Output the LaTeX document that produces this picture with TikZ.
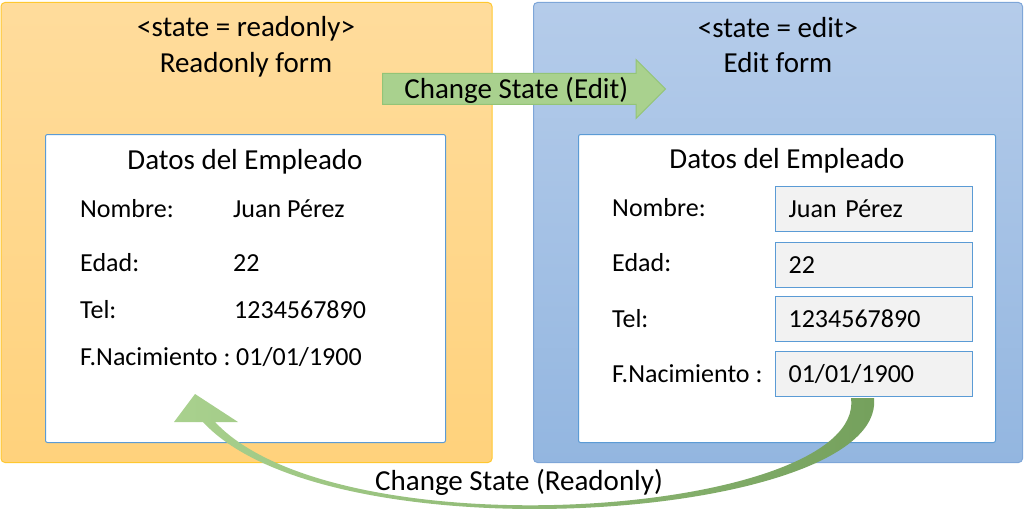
\documentclass[tikz,border=0pt]{standalone}
\usepackage{fontspec}
\setmainfont{Carlito}
\usetikzlibrary{shapes.arrows,positioning,calc}
\definecolor{roTop}{HTML}{FFDC9C}
\definecolor{roBot}{HTML}{FFD27C}
\definecolor{roEdge}{HTML}{FFC830}
\definecolor{edTop}{HTML}{B5CCEA}
\definecolor{edBot}{HTML}{93B6E0}
\definecolor{edEdge}{HTML}{7EA6D8}
\definecolor{frmEdge}{HTML}{5B9BD5}
\definecolor{fldFill}{HTML}{F2F2F2}
\definecolor{grnLight}{HTML}{A9D18E}
\definecolor{grnDark}{HTML}{74A05C}
\definecolor{grnEdge}{HTML}{93C477}
\newcommand{\titlefont}{\fontsize{29}{34}\selectfont}
\newcommand{\fieldfont}{\fontsize{26}{31}\selectfont}
\tikzset{
  panel/.style={anchor=north west, rounded corners=4pt, line width=1pt, inner sep=0},
  ropanel/.style={panel, draw=roEdge, top color=roTop, bottom color=roBot},
  edpanel/.style={panel, draw=edEdge, top color=edTop, bottom color=edBot},
  formbox/.style={anchor=north west, draw=frmEdge, fill=white, rounded corners=2pt, line width=1pt, inner sep=0},
  title/.style={font=\titlefont, inner sep=0, text height=18.6pt, text depth=0pt},
  lbl/.style={font=\fieldfont, anchor=west, inner sep=0, text height=16.6pt, text depth=0pt},
  fieldbox/.style={lbl, anchor=north west, draw=frmEdge, fill=fldFill, line width=1.2pt,
    minimum height=45pt, text width=171pt, inner xsep=13pt, align=left},
  editarrow/.style={single arrow, single arrow head extend=14pt, single arrow head indent=0pt,
    font=\titlefont, text height=18.6pt, text depth=0pt, inner ysep=5.7pt, inner xsep=0pt,
    minimum height=283pt, fill=grnLight, draw=grnEdge, line width=1pt, anchor=tail},
}

\begin{document}
\begin{tikzpicture}[x=1pt,y=-1pt]
 \useasboundingbox (0,0) rectangle (1024,516);
 % readonly state
 \node[ropanel, minimum width=491pt, minimum height=460pt] (ro) at (0.5,2) {};
 \node[title] (roState) at (246,27) {<state = readonly>};
 \node[title] (roName) at (246,63) {Readonly form};
 \node[formbox, minimum width=400pt, minimum height=308pt] (roForm) at (45,134) {};
 \node[title] (roHead) at (245,160) {Datos del Empleado};
 \node[lbl] (roL1) at (80,209) {Nombre:};
 \node[lbl] (roL2) at (80,263) {Edad:};
 \node[lbl] (roL3) at (80,310) {Tel:};
 \node[lbl] (roL4) at (80,357) {F.Nacimiento :};
 \node[lbl] (roV1) at (233,209) {Juan Pérez};
 \node[lbl] (roV2) at (233,263) {22};
 \node[lbl] (roV3) at (234,310) {1234567890};
 \node[lbl] (roV4) at (236,357) {01/01/1900};
 % edit state
 \node[edpanel, minimum width=489pt, minimum height=460pt] (ed) at (533,2) {};
 \node[title] (edState) at (778,28) {<state = edit>};
 \node[title] (edName) at (778,63) {Edit form};
 \node[formbox, minimum width=417pt, minimum height=308pt] (edForm) at (578,134) {};
 \node[title] (edHead) at (787,159) {Datos del Empleado};
 \node[lbl] (edL1) at (612,208) {Nombre:};
 \node[lbl] (edL2) at (612,263) {Edad:};
 \node[lbl] (edL3) at (612,319) {Tel:};
 \node[lbl] (edL4) at (612,374) {F.Nacimiento :};
 \node[fieldbox] (edV1) at (775,186) {Juan Pérez};
 \node[fieldbox] (edV2) at (775,242) {22};
 \node[fieldbox] (edV3) at (775,296) {1234567890};
 \node[fieldbox] (edV4) at (775,351) {01/01/1900};
 % transitions
 \node[editarrow] (toEdit) at (382,89) {Change State (Edit)};
 \coordinate (backOut) at ($(edV4.south)+(0,1)$);
 \coordinate (backIn) at ($(edV4.south)+(-23,1)$);
 \coordinate (backTip) at (195,394);
 \shade[left color=grnLight, right color=grnDark]
   (backOut) .. controls (885,520) and (330,560) .. (203,422) -- (174,422) -- (backTip)
   -- (238,422) -- (215,422) .. controls (340,555) and (865,515) .. (backIn) -- cycle;
 \node[title] (toRo) at (519,481) {Change State (Readonly)};
\end{tikzpicture}
\end{document}
